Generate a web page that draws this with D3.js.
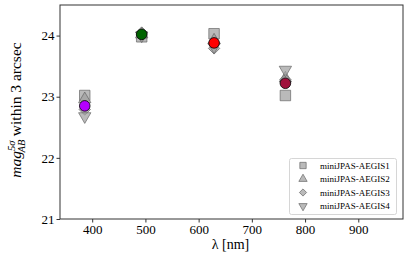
<!DOCTYPE html>
<html><head><meta charset="utf-8">
<script src="https://cdn.jsdelivr.net/npm/d3@7"></script>
<style>body{margin:0;background:#fff}svg{display:block}</style>
</head><body>
<svg id="c" width="407" height="263"></svg>
<script>
const wavelengths = [386, 493, 629, 763];
const aegis1 = [23.02, 23.98, 24.03, 23.02];
const aegis2 = [22.96, 24.02, 23.92, 23.30];
const aegis3 = [22.79, 24.05, 23.79, 23.28];
const aegis4 = [22.68, 24.00, 23.82, 23.44];
const combined = [22.85, 24.02, 23.88, 23.22];
const combinedColors = ["#b400ff", "#006400", "#ff0000", "#a0103c"];
const legendLabels = ["miniJPAS-AEGIS1", "miniJPAS-AEGIS2", "miniJPAS-AEGIS3", "miniJPAS-AEGIS4"];
const xTicks = [400, 500, 600, 700, 800, 900];
const yTicks = [21, 22, 23, 24];

const FF = "'Liberation Serif'";
const svg = d3.select("#c");
const L = 60, R = 403, T = 5, B = 219;
const x = d3.scaleLinear().domain([339.5, 984]).range([L, R]);
const y = d3.scaleLinear().domain([21, 24.5]).range([B, T]);

const g = svg.append("g");
const xa = svg.append("g").attr("transform", `translate(0,${B})`).call(d3.axisBottom(x).tickValues(xTicks).tickSize(3.5).tickPadding(2));
const ya = svg.append("g").attr("transform", `translate(${L},0)`).call(d3.axisLeft(y).tickValues(yTicks).tickFormat(d3.format("d")).tickSize(3.5).tickPadding(2));
[xa, ya].forEach(a => { a.select(".domain").remove(); a.selectAll("text").attr("fill", "#000").style("font-family", FF).style("font-size", "13px"); a.selectAll("line").attr("stroke", "#333"); });
svg.append("rect").attr("x", L).attr("y", T).attr("width", R - L).attr("height", B - T).attr("fill", "none").attr("stroke", "#333").attr("stroke-width", 1);

const series = [aegis1, aegis2, aegis3, aegis4];
const symFor = i => i === 0 ? d3.symbol().type(d3.symbolSquare).size(110)
  : i === 2 ? d3.symbol().type(d3.symbolSquare).size(64)
  : d3.symbol().type(d3.symbolTriangle).size(66);
const rotFor = i => i === 3 ? 180 : (i === 2 ? 45 : 0);
const fill = "rgba(160,160,160,0.72)", stroke = "rgba(100,100,100,0.85)";
series.forEach((s, i) => {
  g.selectAll(null).data(s).enter().append("path")
    .attr("d", symFor(i)())
    .attr("transform", (d, j) => `translate(${x(wavelengths[j])},${y(d)}) rotate(${rotFor(i)})`)
    .attr("fill", fill).attr("stroke", stroke).attr("stroke-width", 0.8);
});
g.selectAll(null).data(combined).enter().append("circle")
  .attr("cx", (d, j) => x(wavelengths[j])).attr("cy", d => y(d)).attr("r", 5.3)
  .attr("fill", (d, j) => combinedColors[j]).attr("stroke", "#000").attr("stroke-width", 0.8);

// legend
const lg = svg.append("g");
lg.append("rect").attr("x", 289.5).attr("y", 158.5).attr("width", 107).attr("height", 56).attr("rx", 2)
  .attr("fill", "#fff").attr("stroke", "#ccc").attr("stroke-width", 0.8);
legendLabels.forEach((lab, i) => {
  const yy = 165.5 + i * 13.5;
  const sz = i === 0 ? 40 : i === 2 ? 26 : 30;
  lg.append("path").attr("d", d3.symbol().type(i === 1 || i === 3 ? d3.symbolTriangle : d3.symbolSquare).size(sz)())
    .attr("transform", `translate(303,${yy}) rotate(${rotFor(i)})`)
    .attr("fill", fill).attr("stroke", stroke).attr("stroke-width", 0.8);
  lg.append("text").attr("x", 320).attr("y", yy + 3).style("font-family", FF).style("font-size", "9px").text(lab);
});

// axis labels
svg.append("text").attr("x", (L + R) / 2 - 1).attr("y", 249).attr("text-anchor", "middle").style("font-family", FF).style("font-size", "14px").text("λ [nm]");
const yl = svg.append("text").attr("transform", "translate(21,110) rotate(-90)").attr("text-anchor", "middle").style("font-family", FF).style("font-size", "15.5px");
yl.append("tspan").attr("font-style", "italic").text("mag");
yl.append("tspan").style("font-size", "10.5px").attr("dy", -6.5).attr("font-style", "italic").text("5σ");
yl.append("tspan").style("font-size", "10.5px").attr("dx", -12).attr("dy", 10.5).attr("font-style", "italic").text("AB");
yl.append("tspan").attr("dy", -4).attr("dx", 3.5).text("within 3 arcsec");
</script>
</body></html>
